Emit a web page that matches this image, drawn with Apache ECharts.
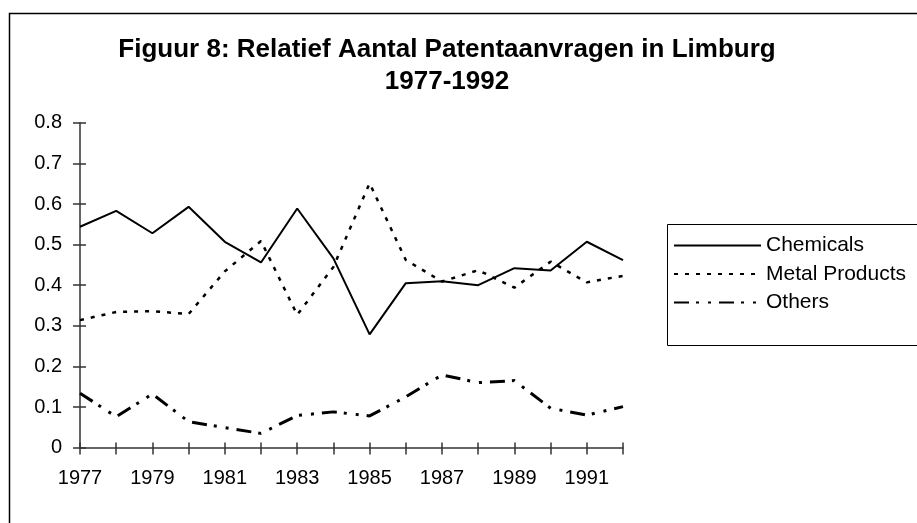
<!DOCTYPE html>
<html>
<head>
<meta charset="utf-8">
<script src="https://cdn.jsdelivr.net/npm/echarts@6/dist/echarts.min.js"></script>
<style>
  html, body { margin: 0; padding: 0; background: #fff; }
  #chart { width: 917px; height: 523px; }
</style>
</head>
<body>
<div id="chart"></div>
<script>
// values
const years = ['1977', '1978', '1979', '1980', '1981', '1982', '1983', '1984',
  '1985', '1986', '1987', '1988', '1989', '1990', '1991', '1992'];
const chemicals = [0.544, 0.583, 0.528, 0.593, 0.507, 0.456, 0.589, 0.466,
  0.279, 0.405, 0.410, 0.400, 0.442, 0.436, 0.507, 0.462];
const metalProducts = [0.314, 0.334, 0.336, 0.329, 0.434, 0.509, 0.327, 0.445,
  0.651, 0.462, 0.409, 0.437, 0.394, 0.458, 0.407, 0.423];
const others = [0.134, 0.076, 0.132, 0.064, 0.049, 0.035, 0.079, 0.088,
  0.078, 0.125, 0.179, 0.160, 0.165, 0.097, 0.080, 0.101];

const font = "'Liberation Sans', Arial, sans-serif";
const axisColor = '#333';

const chart = echarts.init(document.getElementById('chart'));

const options = {
  animation: false,
  backgroundColor: '#fff',
  title: {
    text: 'Figuur 8: Relatief Aantal Patentaanvragen in Limburg\n1977-1992',
    left: 442,
    top: 29,
    textAlign: 'center',
    textStyle: {
      fontFamily: font,
      fontSize: 26,
      fontWeight: 'bold',
      color: '#000',
      lineHeight: 32
    }
  },
  graphic: [
    // outer frame (only left and top edges are inside the picture)
    {type: 'rect', left: 7, top: 11, shape: {width: 1000, height: 1000},
      style: {fill: 'none', stroke: '#000', lineWidth: 1.5}, z: 0},
    // legend box
    {type: 'rect', left: 667, top: 224, shape: {width: 300, height: 121},
      style: {fill: '#fff', stroke: '#000', lineWidth: 1}, z: 1}
  ],
  legend: {
    orient: 'vertical',
    left: 673,
    top: 235,
    padding: 0,
    itemWidth: 87,
    itemHeight: 14,
    itemGap: 7.5,
    z: 5,
    itemStyle: {opacity: 0},
    textStyle: {fontFamily: font, fontSize: 21, color: '#000', lineHeight: 20},
    data: ['Chemicals', 'Metal Products', 'Others']
  },
  grid: {left: 80, right: 294, top: 122.8, bottom: 75.4, containLabel: false},
  xAxis: [
    {
      type: 'category',
      data: years,
      boundaryGap: false,
      axisLine: {lineStyle: {color: axisColor, width: 1.5}},
      axisTick: {interval: 0, length: 7, lineStyle: {color: axisColor, width: 1.5}},
      axisLabel: {interval: 1, margin: 21, fontFamily: font, fontSize: 20, color: '#000'},
      splitLine: {show: false}
    },
    {
      type: 'category',
      data: years,
      boundaryGap: false,
      position: 'bottom',
      axisLine: {show: false},
      axisTick: {inside: true, interval: 0, length: 5, lineStyle: {color: axisColor, width: 1.5}},
      axisLabel: {show: false},
      splitLine: {show: false}
    }
  ],
  yAxis: [
    {
      type: 'value',
      min: 0,
      max: 0.8,
      interval: 0.1,
      axisLine: {show: true, lineStyle: {color: axisColor, width: 1.5}},
      axisTick: {show: true, length: 7, lineStyle: {color: axisColor, width: 1.5}},
      axisLabel: {
        margin: 18, fontFamily: font, fontSize: 20, color: '#000',
        formatter: v => (v === 0 ? '0' : v.toFixed(1))
      },
      splitLine: {show: false}
    },
    {
      type: 'value',
      min: 0,
      max: 0.8,
      interval: 0.1,
      position: 'left',
      axisLine: {show: false},
      axisTick: {show: true, inside: true, length: 6, lineStyle: {color: axisColor, width: 1.5}},
      axisLabel: {show: false},
      splitLine: {show: false}
    }
  ],
  series: [
    {
      name: 'Chemicals',
      type: 'line',
      data: chemicals,
      symbol: 'none',
      lineStyle: {color: '#000', width: 2, type: 'solid'},
      itemStyle: {color: '#000'}
    },
    {
      name: 'Metal Products',
      type: 'line',
      data: metalProducts,
      symbol: 'none',
      lineStyle: {color: '#000', width: 2.5, type: [4, 7]},
      itemStyle: {color: '#000'}
    },
    {
      name: 'Others',
      type: 'line',
      data: others,
      symbol: 'none',
      lineStyle: {color: '#000', width: 3, type: [15, 7, 3, 9, 3, 8]},
      itemStyle: {color: '#000'}
    }
  ]
};

chart.setOption(options);
</script>
</body>
</html>
